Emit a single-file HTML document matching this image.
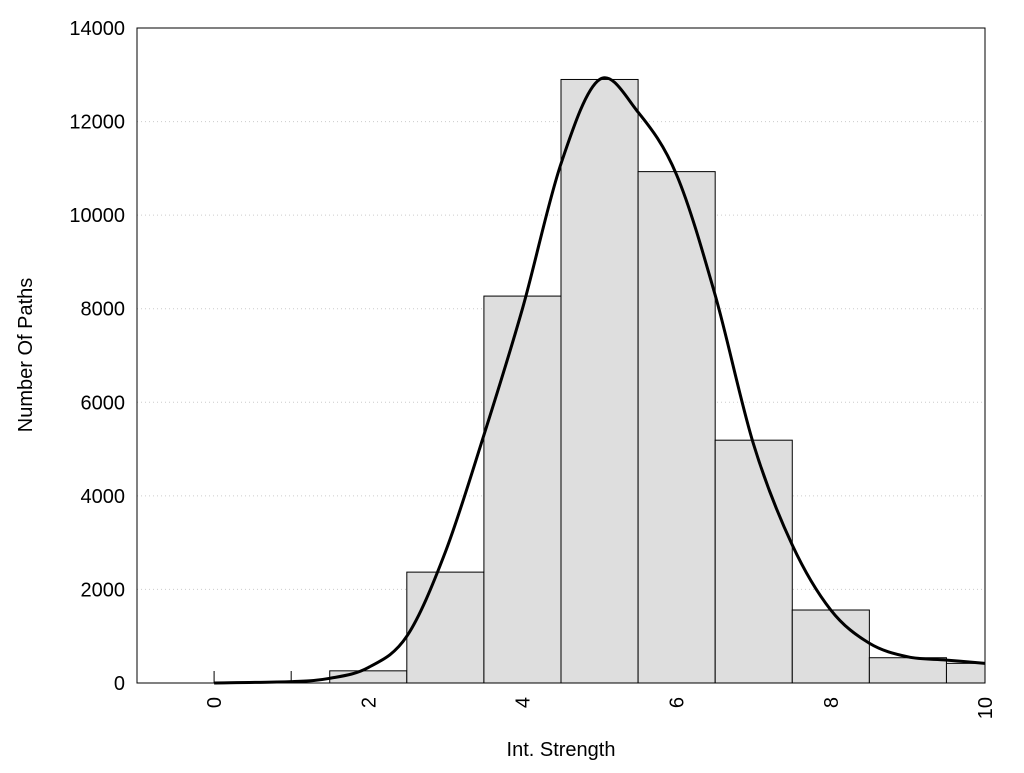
<!DOCTYPE html>
<html><head><meta charset="utf-8"><style>body{margin:0;background:#fff}svg text{font-family:"Liberation Sans",sans-serif;fill:#000}</style></head>
<body>
<svg id="c" width="1024" height="768" xmlns="http://www.w3.org/2000/svg"></svg>
<script>
const binCenters=[0,1,2,3,4,5,6,7,8,9,10];
const binCounts=[0,0,260,2370,8270,12900,10930,5190,1560,540,420];
const curveX=[0,1,1.5,2,2.5,3,3.5,4,4.5,5,5.5,6,6.5,7,7.5,8,8.5,9,9.5,10];
const curveY=[0,30,100,330,1000,2800,5300,8000,11100,12900,12200,10860,8290,5090,2950,1560,850,560,490,420];
const yTicks=[0,2000,4000,6000,8000,10000,12000,14000];
const xTicks=[0,2,4,6,8,10];
const L=137,R=985,T=28,B=683,xmin=-1,xmax=10,ymax=14000;
const sx=v=>L+(v-xmin)/(xmax-xmin)*(R-L);
const sy=v=>B-v/ymax*(B-T);
const svg=document.getElementById('c');const NS='http://www.w3.org/2000/svg';
function mk(t,a,p){const e=document.createElementNS(NS,t);for(const k in a)e.setAttribute(k,a[k]);(p||svg).appendChild(e);return e;}
yTicks.forEach(v=>{if(v>0&&v<ymax){const g=mk('line',{x1:L,x2:R,y1:sy(v),y2:sy(v),stroke:'#ccc','stroke-dasharray':'1,3'});

}
const t=mk('text',{x:125,y:sy(v)+7,'text-anchor':'end','font-size':20});t.textContent=v;

});
binCenters.forEach(v=>{const k=mk('line',{x1:sx(v),x2:sx(v),y1:B,y2:B-12,stroke:'#000'});

});
binCenters.forEach((c,i)=>{if(binCounts[i]<=0)return;const x0=sx(c-0.5),x1=Math.min(sx(c+0.5),R);
const r=mk('rect',{x:x0,y:sy(binCounts[i]),width:x1-x0,height:B-sy(binCounts[i]),fill:'#dedede',stroke:'#000','stroke-width':1});

});
const P=curveX.map((x,i)=>[sx(x),sy(curveY[i])]);
let d='M'+P[0][0]+','+P[0][1];
for(let i=0;i<P.length-1;i++){const p0=P[Math.max(0,i-1)],p1=P[i],p2=P[i+1],p3=P[Math.min(P.length-1,i+2)];
d+=` C${p1[0]+(p2[0]-p0[0])/6},${p1[1]+(p2[1]-p0[1])/6} ${p2[0]-(p3[0]-p1[0])/6},${p2[1]-(p3[1]-p1[1])/6} ${p2[0]},${p2[1]}`;}
const cv=mk('path',{d:d,fill:'none',stroke:'#000','stroke-width':3});


const fr=mk('rect',{x:L,y:T,width:R-L,height:B-T,fill:'none',stroke:'#000','stroke-width':1});


xTicks.forEach(v=>{const t=mk('text',{x:0,y:0,'text-anchor':'end','font-size':20,transform:`translate(${sx(v)+7},697) rotate(-90)`});t.textContent=v;

});
const xt=mk('text',{x:561,y:756,'text-anchor':'middle','font-size':20});xt.textContent='Int. Strength';


const yt=mk('text',{x:0,y:0,'text-anchor':'middle','font-size':20,transform:'translate(32,355) rotate(-90)'});yt.textContent='Number Of Paths';


</script>
</body></html>
